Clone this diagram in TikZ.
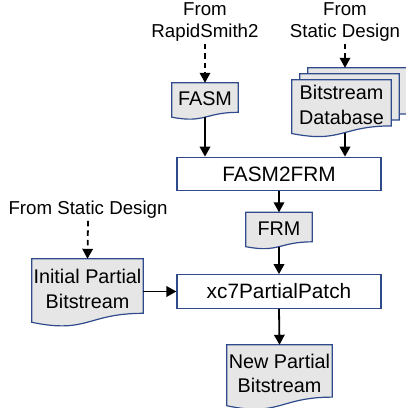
\documentclass[tikz,border=0pt]{standalone}
\usepackage{fontspec}
\setmainfont{Liberation Sans}
\usetikzlibrary{arrows.meta,calc,backgrounds}

\definecolor{edgeblue}{RGB}{47,75,140}
\definecolor{docgray}{RGB}{230,230,230}

% Wavy-bottom document outline behind a named node.
% The node covers the upper 88% of the document; the wave reaches below it.
\newcommand\docoutline[1]{%
  \begin{scope}[on background layer]
    \path[docfill] (#1.north west) -- (#1.north east)
      -- ($(#1.north east)!0.9114!(#1.south east)$)
      .. controls ($(#1.north)!0.9114!(#1.south)$) and ($(#1.north)!1.258!(#1.south)$)
      .. ($(#1.north west)!1.0614!(#1.south west)$) -- cycle;
  \end{scope}}

\tikzset{
  x=1pt, y=-1pt,
  docfill/.style={draw=edgeblue, fill=docgray, line width=1.2pt, line join=miter},
  docnode/.style 2 args={minimum width=#1, minimum height=#2, inner sep=0pt,
    align=center, font=\fontsize{19.8}{24.5}\selectfont},
  procbox/.style={draw=edgeblue, fill=white, line width=1.2pt, minimum width=204,
    minimum height=33.5, inner sep=0pt, font=\fontsize{20.8}{24}\selectfont},
  srclabel/.style={align=center, inner sep=2pt, font=\fontsize{18.7}{22}\selectfont},
  flow/.style={line width=1.8pt, -{Triangle[length=10pt,width=10.5pt]}},
  feed/.style={flow, dash pattern=on 5.5pt off 4pt},
}

\begin{document}
\begin{tikzpicture}
\useasboundingbox (0,0) rectangle (406,408);

% source labels
\node[srclabel] (rslabel) at (205,22) {From\\RapidSmith2};
\node[srclabel] (sdlabel) at (345,22) {From\\Static Design};
\node[srclabel] (sdleft) at (88,210) {From Static Design};

% documents
\node[docnode={66}{32}] (fasm) at (205,99) {FASM};
\docoutline{fasm}

\node[docnode={99}{50.2}] (bdb3) at (357.5,93.1) {};
\docoutline{bdb3}
\node[docnode={99}{50.2}] (bdb2) at (349.5,99.1) {};
\docoutline{bdb2}
\node[docnode={99}{50.2}] (bdb1) at (341.5,105.1) {Bitstream\\Database};
\docoutline{bdb1}

\node[docnode={66}{32}] (frm) at (279,228.5) {FRM};
\docoutline{frm}

\node[docnode={111}{59.4}] (ipb) at (87.5,288.7) {Initial Partial\\Bitstream};
\docoutline{ipb}

\node[docnode={105}{57}] (npb) at (279.5,373.5) {New Partial\\Bitstream};
\docoutline{npb}

% processing steps
\node[procbox] (f2f) at (279,174) {FASM2FRM};
\node[procbox] (xc7) at (279,291.5) {xc7PartialPatch};

% points where the wavy bottoms are left
\coordinate (fasmout) at ($(fasm.north)!1.06!(fasm.south)$);
\coordinate (bdbout) at ($(bdb1.north)!1.06!(bdb1.south)$);
\coordinate (frmout) at ($(frm.north)!1.06!(frm.south)$);

% connectors
\draw[feed] (rslabel.south) -- (fasm.north);
\draw[feed] (sdlabel.south) -- (sdlabel.south |- bdb3.north);
\draw[feed] (sdleft.south) -- (ipb.north);

\draw[flow] (fasmout) -- (fasmout |- f2f.north);
\draw[flow] (sdlabel |- bdbout) -- (sdlabel |- f2f.north);
\draw[flow] (f2f.south) -- (frm.north);
\draw[flow] (frmout) -- (xc7.north);
\draw[flow] (ipb.east |- xc7.west) -- (xc7.west);
\draw[flow] (xc7.south) -- (npb.north);
\end{tikzpicture}
\end{document}
